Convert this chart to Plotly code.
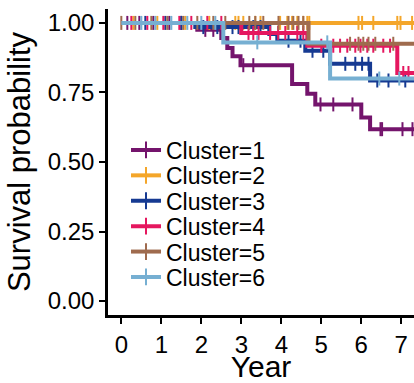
import numpy as np
import plotly.graph_objects as go

groups = ["Cluster=1", "Cluster=2", "Cluster=3", "Cluster=4", "Cluster=5", "Cluster=6"]
colors = ["#74146C", "#F4A62A", "#163A92", "#E5175F", "#9F6B4E", "#76AFD2"]

# event times (start of each step) and survival values
c1_times = [0, 1.9, 2.5, 2.65, 2.78, 2.98, 4.27, 4.65, 4.85, 6.0, 6.22]
c1_surv = [1, 0.975, 0.946, 0.91, 0.88, 0.848, 0.78, 0.745, 0.707, 0.66, 0.618]
c1_cens = [0.15, 0.45, 0.8, 1.2, 1.5, 2.1, 2.3, 3.05, 3.3, 4.98, 5.3, 5.78, 6.48, 6.52, 7.03, 7.28]

c2_times = [0]
c2_surv = [1]
c2_cens = [0.3, 0.9, 1.6, 2.2, 2.85, 2.93, 3.05, 3.35, 3.48, 3.97, 4.15, 4.27, 4.4, 4.55, 4.65,
           4.7, 5.93, 6.02, 6.3, 6.9, 6.98, 7.27]

c3_times = [0, 1.85, 3.7, 3.9, 4.6, 5.22, 6.22]
c3_surv = [1, 0.985, 0.96, 0.936, 0.9, 0.853, 0.793]
c3_cens = [0.6, 1.1, 1.5, 2.05, 2.4, 2.78, 2.93, 3.3, 3.48, 4.18, 4.48, 4.78, 5.05, 5.6, 5.85,
           6.02, 6.18, 6.4, 6.68, 7.1]

c4_times = [0, 3.0, 4.65, 6.9]
c4_surv = [1, 0.964, 0.918, 0.82]
c4_cens = [0.25, 0.65, 1.05, 1.45, 1.75, 2.15, 2.5, 3.18, 3.3, 3.43, 3.72, 3.92, 4.1, 4.4, 4.55,
           5.0, 5.3, 5.47, 5.65, 5.85, 5.98, 6.15, 6.3, 6.55, 6.72, 7.05, 7.18]

c5_times = [0, 4.68]
c5_surv = [1, 0.925]
c5_cens = [0.0, 0.35, 0.75, 1.15, 1.55, 1.9, 2.3, 2.6, 3.2, 3.35, 3.55, 3.93, 4.18, 4.3, 4.43,
           4.55, 5.72, 5.93, 6.05, 6.18, 6.35, 6.8]

c6_times = [0, 2.55, 5.22]
c6_surv = [1, 0.93, 0.80]
c6_cens = [0.5, 0.85, 1.25, 1.65, 2.0, 2.35, 3.4, 5.15, 6.45, 6.95]

end_time = 7.45
x_ticks = [0, 1, 2, 3, 4, 5, 6, 7]
y_ticks = [0, 0.25, 0.5, 0.75, 1.0]

all_times = [c1_times, c2_times, c3_times, c4_times, c5_times, c6_times]
all_surv = [c1_surv, c2_surv, c3_surv, c4_surv, c5_surv, c6_surv]
all_cens = [c1_cens, c2_cens, c3_cens, c4_cens, c5_cens, c6_cens]

FONT = "Liberation Sans, Arial, sans-serif"
W, H = 414, 383
ML, MR, MT, MB = 108, 0, 9, 68
PW, PH = W - ML - MR, H - MT - MB

fig = go.Figure()

for i, (name, col, t, s, c) in enumerate(zip(groups, colors, all_times, all_surv, all_cens)):
    xs = list(t) + [end_time]
    ys = list(s) + [s[-1]]
    fig.add_trace(go.Scatter(x=xs, y=ys, mode="lines", line=dict(color=col, width=4, shape="hv"),
                             showlegend=False, hoverinfo="skip"))
    idx = np.searchsorted(np.array(t), np.array(c), side="right") - 1
    cy = np.array(s)[idx]
    fig.add_trace(go.Scatter(x=c, y=cy, mode="markers",
                             marker=dict(symbol="line-ns", size=10, color=col,
                                         line=dict(width=2, color=col)),
                             showlegend=False, hoverinfo="skip"))

legend_layouts = {}
for i, (name, col) in enumerate(zip(groups, colors)):
    lkey = "legend" if i == 0 else f"legend{i+1}"
    fig.add_trace(go.Scatter(x=[None], y=[None], mode="lines+markers", name=name,
                             line=dict(color=col, width=4),
                             marker=dict(symbol="line-ns", size=12, color=col,
                                         line=dict(width=2, color=col)),
                             legend=lkey))
    yc = 150 + 25.4 * i
    legend_layouts[lkey] = dict(x=(126 - ML) / PW, y=(H - MB - yc) / PH, xref="paper", yref="paper",
                                xanchor="left", yanchor="middle",
                                font=dict(size=23, family=FONT, color="black"),
                                bgcolor="rgba(0,0,0,0)", borderwidth=0)

fig.update_layout(
    width=W, height=H,
    margin=dict(l=ML, r=MR, t=MT, b=MB, autoexpand=False),
    paper_bgcolor="white", plot_bgcolor="white",
    font=dict(family=FONT, color="black"),
    **legend_layouts,
)
fig.update_xaxes(range=[-0.333, 7.318], tickvals=x_ticks, ticktext=[str(v) for v in x_ticks],
                 showgrid=False, zeroline=False, showline=True, linecolor="black", linewidth=2.5,
                 ticks="outside", ticklen=6, tickwidth=2, tickcolor="black",
                 tickfont=dict(size=24, family=FONT, color="black"),
                 title=dict(text="Year", font=dict(size=30, family=FONT, color="black"), standoff=9))
fig.update_yaxes(range=[-0.05, 1.05], tickvals=y_ticks, ticktext=[f"{v:.2f}" for v in y_ticks],
                 showgrid=False, zeroline=False, showline=True, linecolor="black", linewidth=2.5,
                 ticks="outside", ticklen=6, tickwidth=2, tickcolor="black",
                 tickfont=dict(size=24, family=FONT, color="black"),
                 title=dict(text="Survival probability", font=dict(size=31, family=FONT, color="black"),
                            standoff=8))

fig.write_html("out.html")
